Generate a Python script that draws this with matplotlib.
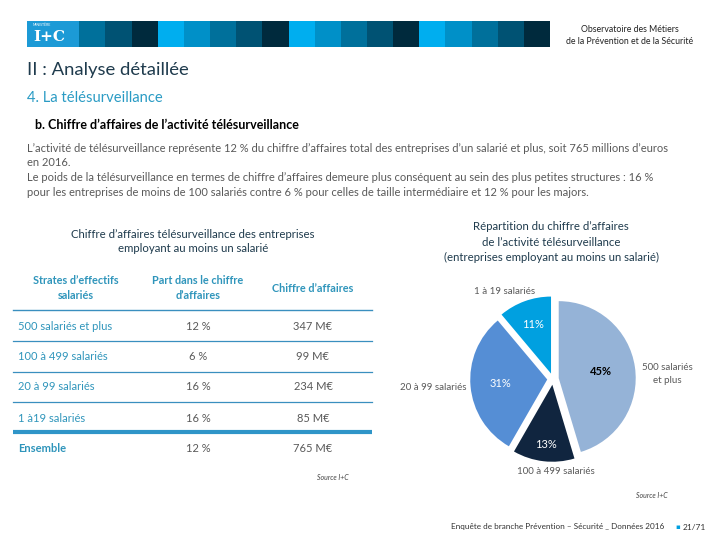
import matplotlib
matplotlib.use("Agg")
import matplotlib.pyplot as plt
from matplotlib.patches import Rectangle
import numpy as np

plt.rcParams['font.family'] = ['Lato', 'DejaVu Sans']

# ---------------- data ----------------
strates = ["500 salariés et plus", "100 à 499 salariés", "20 à 99 salariés", "1 à19 salariés", "Ensemble"]
parts = ["12 %", "6 %", "16 %", "16 %", "12 %"]
ca_millions = [347, 99, 234, 85, 765]
headers = ["Strates d’effectifs\nsalariés", "Part dans le chiffre\nd’affaires", "Chiffre d’affaires"]

pie_labels = ["500 salariés\net plus", "100 à 499 salariés", "20 à 99 salariés", "1 à 19 salariés"]
pie_values = ca_millions[:4]
pie_colors = ["#95b3d7", "#10253f", "#558ed5", "#00a0e0"]

paragraph = [
    "L’activité de télésurveillance représente 12 % du chiffre d’affaires total des entreprises d’un salarié et plus, soit 765 millions d’euros",
    "en 2016.",
    "Le poids de la télésurveillance en termes de chiffre d’affaires demeure plus conséquent au sein des plus petites structures : 16 %",
    "pour les entreprises de moins de 100 salariés contre 6 % pour celles de taille intermédiaire et 12 % pour les majors.",
]

band_colors = ["#00aeef", "#0090c8", "#00709b", "#005273", "#002a3d"]

# ---------------- figure ----------------
fig = plt.figure(figsize=(7.2, 5.4), dpi=100)
bg = fig.add_axes([0, 0, 1, 1])
bg.set_xlim(0, 720)
bg.set_ylim(540, 0)
bg.axis('off')

# header band
bw = (550 - 27) / 20
for i in range(20):
    bg.add_patch(Rectangle((27 + i * bw, 21), bw + 0.3, 26, color=band_colors[i % 5], lw=0))
bg.add_patch(Rectangle((27, 21), 2 * bw, 26, color="#1c9ad6", lw=0))
bg.text(33, 37, "I+C", color="white", fontsize=11, fontweight='bold', family=['DejaVu Serif'], va='center')
bg.text(33, 25.5, "MINISTÈRE", color="white", fontsize=2.5, va='center')
bg.text(630, 29, "Observatoire des Métiers", ha='center', va='center', fontsize=6.3, color="#222222")
bg.text(630, 42, "de la Prévention et de la Sécurité", ha='center', va='center', fontsize=6.3, color="#222222")

# titles
bg.text(27, 70, "II : Analyse détaillée", fontsize=13.3, color="#1f3b4d", va='center')
bg.text(27, 98, "4. La télésurveillance", fontsize=10.6, color="#2a9bc4", va='center')
bg.text(35, 125, "b. Chiffre d’affaires de l’activité télésurveillance", fontsize=9, color="black",
        fontweight='bold', va='center')
for k, line in enumerate(paragraph):
    bg.text(27, 148 + k * 14.7, line, fontsize=8.05, color="#595959", va='center')

# ---------------- table ----------------
teal = "#2f95bb"
bg.text(193, 234, "Chiffre d’affaires télésurveillance des entreprises", ha='center', va='center',
        fontsize=8.2, color="#1f3b4d")
bg.text(193, 249, "employant au moins un salarié", ha='center', va='center', fontsize=8.2, color="#1f3b4d")
col_x = [76, 198, 313]
for j, h in enumerate(headers):
    bg.text(col_x[j], 288, h, ha='center', va='center', fontsize=7.8, color=teal,
            fontweight='bold', linespacing=1.35)
bg.plot([13, 372], [310, 310], color="#3a8fbf", lw=1.0)
row_y = [326, 357, 387, 418, 448]
for i, (s, p, v) in enumerate(zip(strates, parts, ca_millions)):
    y = row_y[i]
    last = (i == len(strates) - 1)
    bg.text(18, y, s, ha='left', va='center', fontsize=8, color=teal,
            fontweight='bold' if last else 'normal')
    bg.text(col_x[1], y, p, ha='center', va='center', fontsize=8, color="#595959")
    bg.text(col_x[2], y, f"{v} M€", ha='center', va='center', fontsize=8, color="#595959")
    if i < len(strates) - 2:
        bg.plot([13, 372], [y + 15.3, y + 15.3], color="#3a8fbf", lw=0.9)
    elif i == len(strates) - 2:
        bg.plot([13, 372], [432, 432], color="#2f95c8", lw=3.0, solid_capstyle='butt')
bg.text(333, 477, "Source I+C", ha='center', va='center', fontsize=5, color="#444444", style='italic')

# ---------------- pie ----------------
bg.text(551, 226, "Répartition du chiffre d’affaires", ha='center', va='center', fontsize=8.2, color="#1f3b4d")
bg.text(551, 242, "de l’activité télésurveillance", ha='center', va='center', fontsize=8.2, color="#1f3b4d")
bg.text(551, 257, "(entreprises employant au moins un salarié)", ha='center', va='center', fontsize=8.2, color="#1f3b4d")

cx, cy, R = 553, 379, 77
half = 1.3
axp = fig.add_axes([(cx - half * R) / 720, (540 - cy - half * R) / 540, 2 * half * R / 720, 2 * half * R / 540])
axp.set_xlim(-half, half)
axp.set_ylim(-half, half)
axp.set_aspect('equal')
axp.axis('off')
wedges, texts, autotexts = axp.pie(pie_values, colors=pie_colors, startangle=90, counterclock=False,
                                   explode=[0.075] * 4, autopct='%1.0f%%', pctdistance=0.6,
                                   wedgeprops=dict(linewidth=0), radius=1.0)
axp.set_xlim(-half, half)
axp.set_ylim(-half, half)
pct_r = [0.56, 0.78, 0.61, 0.68]
pct_col = ["black", "white", "white", "white"]
for w, t, r, c in zip(wedges, autotexts, pct_r, pct_col):
    ang = np.deg2rad((w.theta1 + w.theta2) / 2)
    ox, oy = w.center
    t.set_position((ox + r * np.cos(ang), oy + r * np.sin(ang)))
    t.set_color(c)
    t.set_fontsize(8)
    t.set_ha('center'); t.set_va('center')
autotexts[0].set_fontweight('bold')

lab_pos = [(667, 374, 'center'), (556, 472, 'center'), (467, 388, 'right'), (505, 291, 'center')]
for lab, (x, y, ha) in zip(pie_labels, lab_pos):
    bg.text(x, y, lab, ha=ha, va='center', fontsize=7, color="#595959", linespacing=1.5)
bg.text(652, 496, "Source I+C", ha='center', va='center', fontsize=5, color="#444444", style='italic')

# footer
bg.text(558, 527, "Enquête de branche Prévention – Sécurité _ Données 2016", ha='center', va='center',
        fontsize=5.9, color="#333333")
bg.text(678, 527, "▪", ha='center', va='center', fontsize=5, color="#00a0e0", family=['DejaVu Sans'])
bg.text(694, 527, "21/71", ha='center', va='center', fontsize=6, color="#333333")

fig.savefig("out.png", dpi=100)
